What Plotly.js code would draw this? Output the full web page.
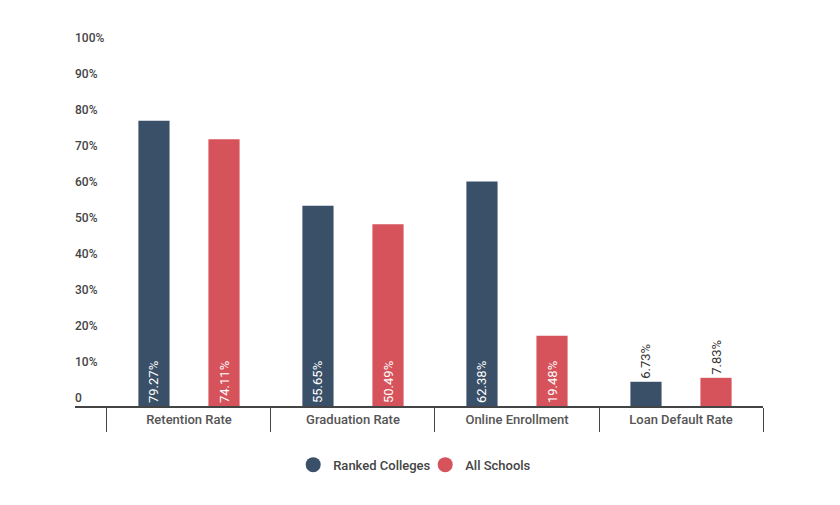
<!DOCTYPE html>
<html><head><meta charset="utf-8">
<script src="https://cdn.plot.ly/plotly-3.0.1.min.js"></script>
<style>html,body{margin:0;padding:0;background:#fff}#chart{width:840px;height:505px}</style>
</head><body><div id="chart"></div>
<script>
const categories = ["Retention Rate", "Graduation Rate", "Online Enrollment", "Loan Default Rate"];
const rankedColleges = [79.27, 55.65, 62.38, 6.73];
const allSchools = [74.11, 50.49, 19.48, 7.83];
const seriesNames = ["Ranked Colleges", "All Schools"];
const yTickVals = [0, 10, 20, 30, 40, 50, 60, 70, 80, 90, 100];
const yTickText = ["0", "10%", "20%", "30%", "40%", "50%", "60%", "70%", "80%", "90%", "100%"];

const colors = ["#3a5068", "#d6535c"];
const fmt = v => v.toFixed(2) + "%";
const pos = vals => vals.map(v => v < 15 ? "outside" : "inside");
const xRange = [-0.695, 3.5];

function barTrace(vals, name, color) {
  return {
    type: "bar", x: categories, y: vals, name: name, showlegend: false,
    marker: {color: color},
    text: vals.map(fmt), textposition: pos(vals), textangle: -90,
    insidetextanchor: "start", constraintext: "none", cliponaxis: false,
    insidetextfont: {family: "Roboto", size: 13, color: "#ffffff"},
    outsidetextfont: {family: "Roboto", size: 13, color: "#333333"},
    hoverinfo: "skip"
  };
}
function legendTrace(name, color) {
  return {
    type: "scatter", mode: "markers", x: [null], y: [null], name: name,
    marker: {symbol: "circle", size: 15, color: color}, showlegend: true
  };
}

const data = [
  barTrace(rankedColleges, seriesNames[0], colors[0]),
  barTrace(allSchools, seriesNames[1], colors[1]),
  legendTrace(seriesNames[0], colors[0]),
  legendTrace(seriesNames[1], colors[1])
];

const layout = {
  width: 840, height: 505,
  margin: {l: 75, r: 77, t: 16, b: 99},
  paper_bgcolor: "#ffffff", plot_bgcolor: "rgba(0,0,0,0)",
  font: {family: "Roboto", color: "#444"},
  barmode: "group", bargap: 0.146, bargroupgap: 0.555,
  showlegend: true,
  legend: {orientation: "h", x: 0.509, xanchor: "center", xref: "paper", y: -0.112, yanchor: "top",
           entrywidth: 87, entrywidthmode: "pixels",
           font: {family: "Roboto", size: 13, color: "#444", weight: 500}, itemclick: false},
  xaxis: {
    type: "category", range: xRange, fixedrange: true,
    showline: true, linecolor: "#444", linewidth: 2,
    ticks: "outside", tickson: "boundaries", ticklen: 24, tickcolor: "#444", tickwidth: 1,
    tickfont: {family: "Roboto", size: 13, color: "#555", weight: 500},
    showgrid: false, zeroline: false
  },
  yaxis: {
    range: [0, 390 / 3.6], fixedrange: true, tickvals: yTickVals, ticktext: yTickText,
    ticklabelposition: "inside top", ticklabelstandoff: -3,
    showgrid: false, zeroline: false, showline: false,
    tickfont: {family: "Roboto", size: 12, color: "#444", weight: 500}
  }
};

Plotly.newPlot("chart", data, layout, {displayModeBar: false, staticPlot: true});
</script>
</body></html>
